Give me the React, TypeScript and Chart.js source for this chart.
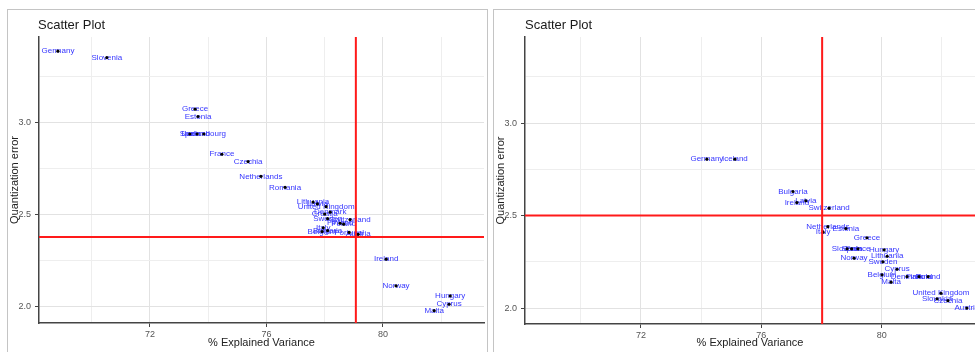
import React, { useEffect, useRef } from "react";
import { Chart, registerables } from "chart.js";

Chart.register(...registerables);

// ---------- data ----------
const chartTitle = "Scatter Plot";
const xAxisTitle = "% Explained Variance";
const yAxisTitle = "Quantization error";

const xMajorTicks = [72, 76, 80];
const xMinorTicks = [70, 74, 78, 82];
const yMajorTicks = [2.0, 2.5, 3.0];
const yMinorTicks = [2.25, 2.75, 3.25];

// left panel
const leftNames = [
  "Germany", "Slovenia", "Greece", "Estonia", "Spain", "Iceland", "Luxembourg",
  "France", "Czechia", "Netherlands", "Romania", "Lithuania", "Latvia",
  "United Kingdom", "Denmark", "Croatia", "Sweden", "Switzerland", "Finland",
  "Poland", "Italy", "Belgium", "Bulgaria", "Portugal", "Austria", "Ireland",
  "Norway", "Hungary", "Cyprus", "Malta",
];
const leftX = [
  68.84, 70.52, 73.55, 73.65, 73.37, 73.62, 73.85,
  74.47, 75.37, 75.81, 76.64, 77.6, 77.75,
  78.05, 78.19, 78.0, 78.1, 78.87, 78.53,
  78.65, 77.95, 77.91, 78.1, 78.84, 79.15, 80.11,
  80.45, 82.31, 82.27, 81.76,
];
const leftY = [
  3.39, 3.355, 3.075, 3.035, 2.94, 2.94, 2.94,
  2.83, 2.79, 2.71, 2.65, 2.57, 2.56,
  2.545, 2.515, 2.505, 2.48, 2.475, 2.455,
  2.45, 2.43, 2.41, 2.415, 2.405, 2.395, 2.26,
  2.115, 2.06, 2.015, 1.98,
];
const leftRefX = 79.07;
const leftRefY = 2.38;
const leftXMin = 68.19;
const leftXMax = 83.47;
const leftYMin = 1.913;
const leftYMax = 3.467;

// right panel
const rightNames = [
  "Germany", "Iceland", "Bulgaria", "Ireland", "Latvia", "Switzerland",
  "Netherlands", "Italy", "Estonia", "Greece", "Slovenia", "France", "Spain",
  "Hungary", "Norway", "Lithuania", "Sweden", "Cyprus", "Belgium", "Denmark",
  "Finland", "Poland", "Malta", "United Kingdom", "Slovakia", "Czechia", "Austria",
];
const rightX = [
  74.19, 75.12, 77.05, 77.18, 77.48, 78.25,
  78.21, 78.05, 78.81, 79.51, 78.85, 79.21, 79.0,
  80.08, 79.08, 80.18, 80.04, 80.51, 80.01, 80.84,
  81.24, 81.54, 80.31, 81.97, 81.84, 82.2, 82.83,
];
const rightY = [
  2.805, 2.805, 2.63, 2.57, 2.58, 2.54,
  2.44, 2.41, 2.43, 2.38, 2.32, 2.32, 2.32,
  2.315, 2.27, 2.28, 2.25, 2.21, 2.18, 2.17,
  2.17, 2.17, 2.14, 2.08, 2.05, 2.04, 2.0,
];
const rightRefX = 78.02;
const rightRefY = 2.5;
const rightXMin = 68.145;
const rightXMax = 83.1;
const rightYMin = 1.914;
const rightYMax = 3.465;

// ---------- styling ----------
const FONT = '"Liberation Sans", Arial, sans-serif';
const LABEL_COLOR = "#3636ff";
const REF_COLOR = "#ff1a1a";

const isIn = (arr: number[], v: number) => arr.some((a) => Math.abs(a - v) < 1e-6);

const labelPlugin = {
  id: "pointLabels",
  beforeDatasetsDraw(chart: any) {
    const names: string[] = chart.config.options.plugins.pointLabels.names;
    const meta = chart.getDatasetMeta(0);
    const ctx = chart.ctx;
    ctx.save();
    const a = chart.chartArea;
    ctx.beginPath();
    ctx.rect(a.left, a.top, a.right - a.left, a.bottom - a.top);
    ctx.clip();
    ctx.font = `8px ${FONT}`;
    ctx.fillStyle = LABEL_COLOR;
    ctx.textAlign = "center";
    ctx.textBaseline = "middle";
    meta.data.forEach((el: any, i: number) => {
      ctx.fillText(names[i], el.x, el.y);
    });
    ctx.restore();
  },
};

type PanelProps = {
  names: string[];
  xs: number[];
  ys: number[];
  refX: number;
  refY: number;
  xMin: number;
  xMax: number;
  yMin: number;
  yMax: number;
  width: number;
  height: number;
  padRight: number;
  xHeight: number;
};

function ScatterPanel(p: PanelProps) {
  const ref = useRef<HTMLCanvasElement | null>(null);
  useEffect(() => {
    if (!ref.current) return;
    const points = p.xs.map((x, i) => ({ x, y: p.ys[i] }));
    const xTicks = [...xMinorTicks, ...xMajorTicks].sort((a, b) => a - b);
    const yTicks = [...yMinorTicks, ...yMajorTicks].sort((a, b) => a - b);
    const chart = new Chart(ref.current, {
      type: "scatter",
      data: {
        datasets: [
          {
            data: points,
            pointRadius: 1.6,
            pointHoverRadius: 1.6,
            pointBackgroundColor: "#000",
            pointBorderWidth: 0,
            order: 1,
          } as any,
          {
            type: "line",
            data: [
              { x: p.refX, y: p.yMin },
              { x: p.refX, y: p.yMax },
            ],
            borderColor: REF_COLOR,
            borderWidth: 2,
            pointRadius: 0,
            showLine: true,
            order: 0,
          } as any,
          {
            type: "line",
            data: [
              { x: p.xMin, y: p.refY },
              { x: p.xMax, y: p.refY },
            ],
            borderColor: REF_COLOR,
            borderWidth: 2,
            pointRadius: 0,
            showLine: true,
            order: 0,
          } as any,
        ],
      },
      options: {
        animation: false,
        responsive: false,
        maintainAspectRatio: false,
        layout: {
          autoPadding: false,
          padding: { top: 27, right: p.padRight, left: 0, bottom: 0 },
        },
        plugins: {
          legend: { display: false },
          tooltip: { enabled: false },
          title: { display: false },
          pointLabels: { names: p.names },
        } as any,
        scales: {
          x: {
            type: "linear",
            min: p.xMin,
            max: p.xMax,
            afterBuildTicks: (s: any) => {
              s.ticks = xTicks.map((v) => ({ value: v }));
            },
            afterFit: (s: any) => {
              s.height = p.xHeight;
            },
            ticks: {
              autoSkip: false,
              maxRotation: 0,
              padding: 2,
              color: "#555",
              font: { size: 9, family: FONT },
              callback: (v: any) => (isIn(xMajorTicks, Number(v)) ? String(v) : ""),
            },
            grid: {
              color: (c: any) => (isIn(xMajorTicks, c.tick?.value) ? "#e2e2e2" : "#eeeeee"),
              tickColor: (c: any) => (isIn(xMajorTicks, c.tick?.value) ? "#444" : "rgba(0,0,0,0)"),
              tickLength: 4,
              lineWidth: 1,
            },
            border: { display: true, color: "#444", width: 1.5 },
            title: {
              display: true,
              text: xAxisTitle,
              color: "#222",
              font: { size: 11, family: FONT },
              padding: { top: 0, bottom: 2 },
            },
          },
          y: {
            type: "linear",
            min: p.yMin,
            max: p.yMax,
            afterBuildTicks: (s: any) => {
              s.ticks = yTicks.map((v) => ({ value: v }));
            },
            afterFit: (s: any) => {
              s.width = 31;
            },
            ticks: {
              autoSkip: false,
              padding: 4,
              color: "#555",
              font: { size: 9, family: FONT },
              callback: (v: any) => (isIn(yMajorTicks, Number(v)) ? Number(v).toFixed(1) : ""),
            },
            grid: {
              color: (c: any) => (isIn(yMajorTicks, c.tick?.value) ? "#e2e2e2" : "#eeeeee"),
              tickColor: (c: any) => (isIn(yMajorTicks, c.tick?.value) ? "#444" : "rgba(0,0,0,0)"),
              tickLength: 4,
              lineWidth: 1,
            },
            border: { display: true, color: "#444", width: 1.5 },
            title: {
              display: true,
              text: yAxisTitle,
              color: "#222",
              font: { size: 11, family: FONT },
              padding: { top: 0, bottom: 0 },
            },
          },
        },
      } as any,
      plugins: [labelPlugin],
    });
    return () => chart.destroy();
  }, []);
  return (
    <canvas
      ref={ref}
      width={p.width}
      height={p.height}
      style={{ width: p.width, height: p.height, display: "block" }}
    />
  );
}

export default function App() {
  return (
    <div
      style={{
        position: "fixed",
        left: 0,
        top: 0,
        width: 975,
        height: 352,
        background: "#fff",
        overflow: "hidden",
        fontFamily: FONT,
      }}
    >
      {/* left panel */}
      <div
        style={{
          position: "absolute",
          left: 7,
          top: 9,
          width: 481,
          height: 360,
          border: "1px solid #c4c4c4",
          boxSizing: "border-box",
        }}
      />
      <div style={{ position: "absolute", left: 8, top: 10 }}>
        <ScatterPanel
          names={leftNames}
          xs={leftX}
          ys={leftY}
          refX={leftRefX}
          refY={leftRefY}
          xMin={leftXMin}
          xMax={leftXMax}
          yMin={leftYMin}
          yMax={leftYMax}
          width={478}
          height={342}
          padRight={2}
          xHeight={29}
        />
      </div>
      <div
        style={{
          position: "absolute",
          left: 38,
          top: 17,
          fontSize: 13,
          lineHeight: "16px",
          color: "#1a1a1a",
        }}
      >
        {chartTitle}
      </div>

      {/* right panel */}
      <div
        style={{
          position: "absolute",
          left: 493,
          top: 9,
          width: 500,
          height: 360,
          border: "1px solid #c4c4c4",
          boxSizing: "border-box",
        }}
      />
      <div style={{ position: "absolute", left: 494, top: 10 }}>
        <ScatterPanel
          names={rightNames}
          xs={rightX}
          ys={rightY}
          refX={rightRefX}
          refY={rightRefY}
          xMin={rightXMin}
          xMax={rightXMax}
          yMin={rightYMin}
          yMax={rightYMax}
          width={481}
          height={342}
          padRight={0}
          xHeight={28}
        />
      </div>
      <div
        style={{
          position: "absolute",
          left: 525,
          top: 17,
          fontSize: 13,
          lineHeight: "16px",
          color: "#1a1a1a",
        }}
      >
        {chartTitle}
      </div>
    </div>
  );
}
